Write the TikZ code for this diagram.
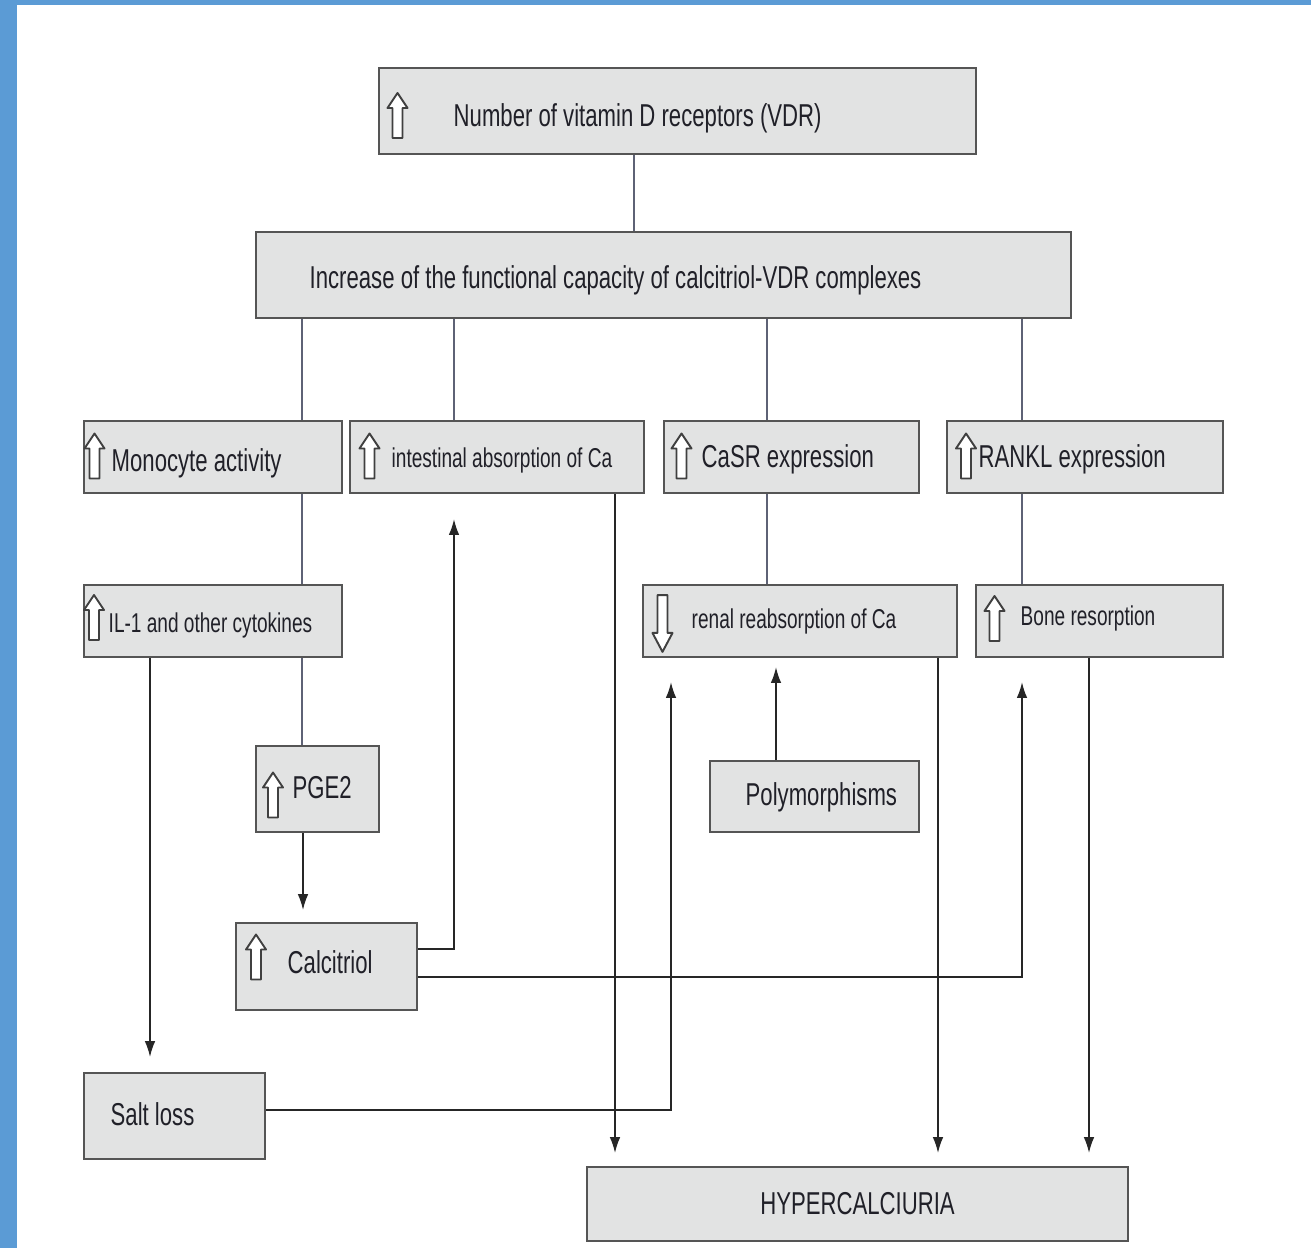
\documentclass[tikz,border=0pt]{standalone}
\usepackage{fontspec}
\setmainfont[FakeStretch=0.7]{Liberation Sans}
\usetikzlibrary{arrows.meta}
\usetikzlibrary{positioning}
\definecolor{frameblue}{HTML}{5B9BD5}
\definecolor{boxgray}{HTML}{E2E3E3}
\definecolor{boxline}{HTML}{555555}
\definecolor{linkline}{HTML}{5E6275}
\definecolor{textdark}{HTML}{202028}
\newcommand{\boxfont}{\fontsize{9}{10}\selectfont}
\newcommand{\smallboxfont}{\fontsize{7.75}{9}\selectfont}
\tikzset{
box/.style={draw=boxline,fill=boxgray,line width=0.6pt,anchor=north west,inner sep=0pt},
txt/.style={anchor=base west,inner sep=0pt,text=textdark,font=\boxfont},
smalltxt/.style={txt,font=\smallboxfont},
link/.style={draw=linkline,line width=0.45pt},
arr/.style={draw=black!85,line width=0.45pt,-{Latex[length=4.5pt,width=3pt]}},
arrowicon/.style={draw=black!75,fill=white,line width=0.55pt,line join=round},
uparr/.pic={\draw[arrowicon] (-0.05,-0.225) -- (0.05,-0.225) -- (0.05,0.075) -- (0.1,0.075) -- (0,0.225) -- (-0.1,0.075) -- (-0.05,0.075) -- cycle;}
}

\begin{document}
\begin{tikzpicture}
\fill[frameblue] (0,0) rectangle (13.11,-12.48);
\fill[white] (0.17,-0.05) rectangle (13.11,-12.48);
\useasboundingbox (0,0) rectangle (13.11,-12.48);

\node[box,minimum width=5.97cm,minimum height=0.86cm] (vdr) at (3.78,-0.67) {};
\node[box,minimum width=8.15cm,minimum height=0.86cm] (incr) at (2.55,-2.31) {};
\node[box,minimum width=2.58cm,minimum height=0.72cm] (mono) at (0.83,-4.20) {};
\node[box,minimum width=2.94cm,minimum height=0.72cm] (intest) at (3.49,-4.20) {};
\node[box,minimum width=2.55cm,minimum height=0.72cm] (casr) at (6.63,-4.20) {};
\node[box,minimum width=2.76cm,minimum height=0.72cm] (rankl) at (9.46,-4.20) {};
\node[box,minimum width=2.58cm,minimum height=0.72cm] (il) at (0.83,-5.84) {};
\node[box,minimum width=3.14cm,minimum height=0.72cm] (renal) at (6.42,-5.84) {};
\node[box,minimum width=2.47cm,minimum height=0.72cm] (bone) at (9.75,-5.84) {};
\node[box,minimum width=1.23cm,minimum height=0.86cm] (pge) at (2.55,-7.45) {};
\node[box,minimum width=2.09cm,minimum height=0.71cm] (poly) at (7.09,-7.60) {};
\node[box,minimum width=1.81cm,minimum height=0.87cm] (calc) at (2.35,-9.22) {};
\node[box,minimum width=1.81cm,minimum height=0.86cm] (salt) at (0.83,-10.72) {};
\node[box,minimum width=5.41cm,minimum height=0.74cm] (hyper) at (5.86,-11.66) {};

\node[txt] (vdrtext) at (4.53,-1.27) {Number of vitamin D receptors (VDR)};
\node[txt] (incrtext) at (3.09,-2.89) {Increase of the functional capacity of calcitriol-VDR complexes};
\node[txt] (monotext) at (1.11,-4.72) {Monocyte activity};
\node[smalltxt] (intesttext) at (3.91,-4.68) {intestinal absorption of Ca};
\node[txt] (casrtext) at (7.01,-4.68) {CaSR expression};
\node[txt] (rankltext) at (9.78,-4.68) {RANKL expression};
\node[smalltxt] (iltext) at (1.08,-6.32) {IL-1 and other cytokines};
\node[smalltxt] (renaltext) at (6.91,-6.28) {renal reabsorption of Ca};
\node[smalltxt] (bonetext) at (10.20,-6.25) {Bone resorption};
\node[txt] (pgetext) at (2.92,-7.98) {PGE2};
\node[txt] (polytext) at (7.45,-8.05) {Polymorphisms};
\node[txt] (calctext) at (2.87,-9.73) {Calcitriol};
\node[txt] (salttext) at (1.10,-11.25) {Salt loss};
\node[txt,anchor=center] (hypertext) at (hyper.center) {HYPERCALCIURIA};

\pic at (3.975,-1.155) {uparr};
\pic at (0.945,-4.56) {uparr};
\pic at (3.695,-4.56) {uparr};
\pic at (6.815,-4.56) {uparr};
\pic at (9.66,-4.56) {uparr};
\pic at (0.94,-6.175) {uparr};
\pic[rotate=180,yscale=1.26] at (6.625,-6.235) {uparr};
\pic at (9.945,-6.185) {uparr};
\pic at (2.73,-7.95) {uparr};
\pic at (2.56,-9.57) {uparr};

\draw[link] (vdr.south -| 6.34,0) -- (incr.north -| 6.34,0);
\draw[link] (incr.south -| 3.02,0) -- (mono.north -| 3.02,0);
\draw[link] (incr.south -| 4.54,0) -- (intest.north -| 4.54,0);
\draw[link] (incr.south -| 7.67,0) -- (casr.north -| 7.67,0);
\draw[link] (incr.south -| 10.22,0) -- (rankl.north -| 10.22,0);
\draw[link] (mono.south -| 3.02,0) -- (il.north -| 3.02,0);
\draw[link] (casr.south -| 7.67,0) -- (renal.north -| 7.67,0);
\draw[link] (rankl.south -| 10.22,0) -- (bone.north -| 10.22,0);
\draw[link] (il.south -| 3.02,0) -- (pge.north -| 3.02,0);

\draw[arr,shorten >=0.12cm] (pge.south -| 3.03,0) -- (calc.north -| 3.03,0);
\draw[arr,shorten >=0.15cm] (il.south -| 1.50,0) -- (salt.north -| 1.50,0);
\draw[arr,shorten >=0.25cm] (calc.east |- 0,-9.49) -| (intest.south -| 4.54,0);
\draw[arr,shorten >=0.24cm] (calc.east |- 0,-9.77) -| (bone.south -| 10.22,0);
\draw[arr,shorten >=0.24cm] (salt.east |- 0,-11.10) -| (renal.south -| 6.71,0);
\draw[arr,shorten >=0.09cm] (poly.north -| 7.76,0) -- (renal.south -| 7.76,0);
\draw[arr,shorten >=0.13cm] (intest.south -| 6.15,0) -- (hyper.north -| 6.15,0);
\draw[arr,shorten >=0.13cm] (renal.south -| 9.38,0) -- (hyper.north -| 9.38,0);
\draw[arr,shorten >=0.13cm] (bone.south -| 10.89,0) -- (hyper.north -| 10.89,0);

\end{tikzpicture}
\end{document}
